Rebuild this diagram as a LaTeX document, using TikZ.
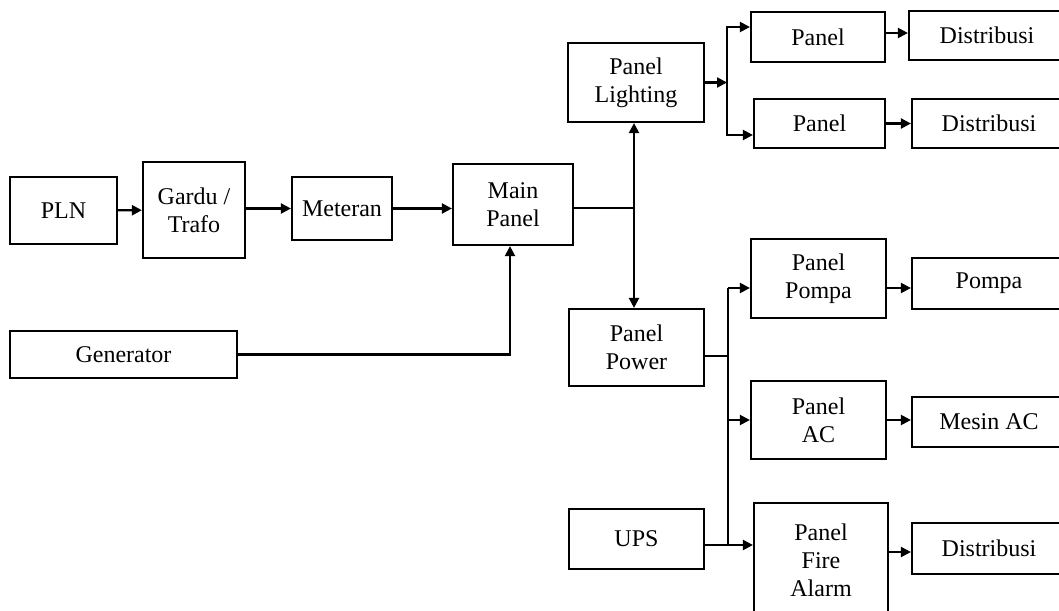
\documentclass[tikz,border=0pt]{standalone}
\usepackage{fontspec}
\setmainfont{Liberation Serif}
\usetikzlibrary{arrows.meta,positioning,calc}

\begin{document}
\begin{tikzpicture}[x=0.5pt, y=-0.5pt, line width=1.1pt,
    every node/.style={font=\fontsize{12}{14}\selectfont},
    blok/.style 2 args={draw, align=center, inner sep=0pt, minimum width=#1*0.5pt, minimum height=#2*0.5pt},
    panah/.style={-{Triangle[length=5pt,width=5pt]}}]
    \useasboundingbox (0,0) rectangle (1059,610);
    \clip (0,0) rectangle (1059,610);

    % sumber
    \node[blok={107}{67}] (pln) at (63.5,210.5) {PLN};
    \node[blok={102}{96}] (gardu) at (194,210) {Gardu /\\Trafo};
    \node[blok={100}{63}] (meteran) at (342,208.5) {Meteran};
    \node[blok={120}{81}] (main) at (513,204.5) {Main\\Panel};
    \node[blok={227}{47}] (gen) at (123.5,354.5) {Generator};
    \node[blok={135}{60}] (ups) at (636.5,539) {UPS};

    % panel
    \node[blok={136}{79}] (lighting) at (636,82.5) {Panel\\Lighting};
    \node[blok={135}{77}] (power) at (636.5,347.5) {Panel\\Power};
    \node[blok={134}{50}] (pl1) at (818,37) {Panel};
    \node[blok={131}{49}] (pl2) at (819.5,123.5) {Panel};
    \node[blok={135}{79}] (ppompa) at (818.5,278.5) {Panel\\Pompa};
    \node[blok={135}{78}] (pac) at (818.5,420) {Panel\\AC};
    \node[blok={134}{114}] (pfire) at (821,560) {Panel\\Fire\\Alarm};

    % beban
    \node[blok={156}{49}] (dist1) at (987,35.5) {Distribusi};
    \node[blok={154}{49}] (dist2) at (989,123.5) {Distribusi};
    \node[blok={154}{51}] (pompa) at (989,283.5) {Pompa};
    \node[blok={154}{50}] (mesin) at (989,422) {Mesin AC};
    \node[blok={154}{51}] (dist3) at (989,548.5) {Distribusi};

    \coordinate (j1) at (634,208);
    \coordinate (j2) at (727,82.5);
    \coordinate (j3) at (728,356);
    \coordinate (j4) at (728,545);
    \coordinate (j5) at (728,288);

    \draw[panah] (pln) -- (gardu);
    \draw[panah] (gardu.east |- meteran.east) -- (meteran.east -| gardu.east) -- (meteran);
    \draw[panah] (meteran.east) -- (meteran.east -| main.west);
    \draw[panah] (gen.east) -| ([xshift=-1.5pt]main.south);

    \draw (main.east |- j1) -- (j1);
    \draw[panah] (j1) -- (j1 |- lighting.south);
    \draw[panah] (j1) -- (j1 |- power.north);

    \draw[panah] (lighting.east) -- (j2);
    \draw[panah] (j2) |- ([yshift=5pt]pl1.west);
    \draw[panah] (j2) |- ([yshift=-5.75pt]pl2.west);
    \draw[panah] ([yshift=2pt]pl1.east) -- ([yshift=2pt]pl1.east -| dist1.west);
    \draw[panah] (pl2.east) -- (pl2.east -| dist2.west);

    \draw (power.east |- j3) -- (j3);
    \draw (ups.east |- j4) -- (j4);
    \draw (j5) -- (j4);
    \draw[panah] (j5) -- (j5 -| ppompa.west);
    \draw[panah] (j3 |- pac.west) -- (pac.west);
    \draw[panah] (j4) -- (j4 -| pfire.west);

    \draw[panah] (ppompa.east |- j5) -- (pompa.west |- j5);
    \draw[panah] (pac.east) -- (pac.east -| mesin.west);
    \draw[panah] ([yshift=4pt]pfire.east) -- ([yshift=4pt]pfire.east -| dist3.west);
\end{tikzpicture}
\end{document}
